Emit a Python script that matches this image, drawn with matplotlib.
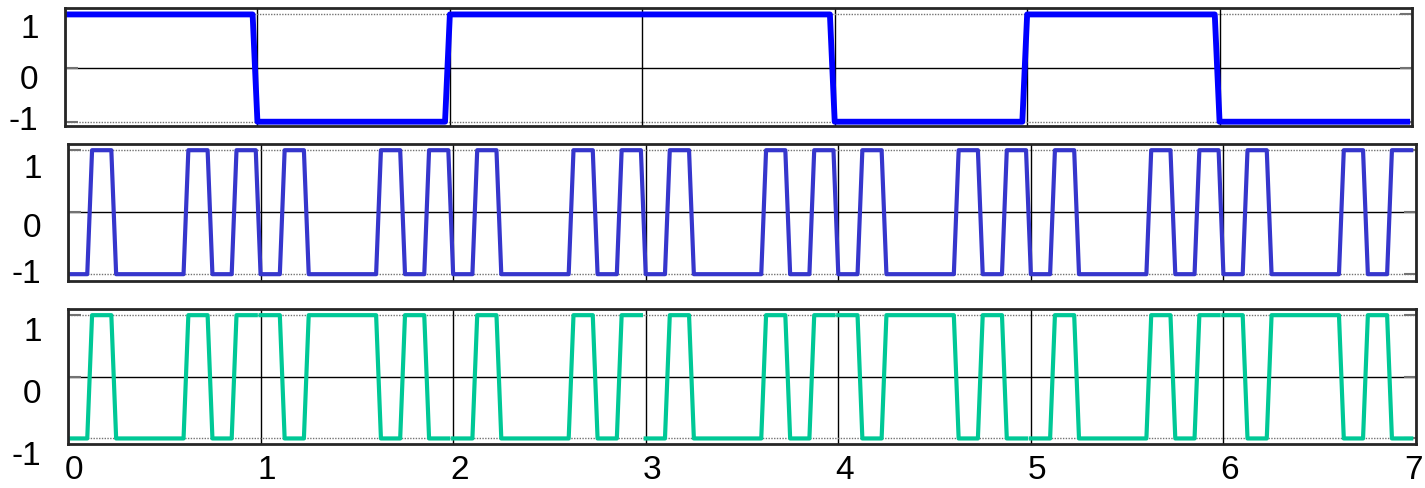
import matplotlib.pyplot as plt
import numpy as np
from matplotlib.transforms import ScaledTranslation

# data bits and the spreading code (one code period per bit)
bits = [1, 0, 1, 1, 0, 1, 0]
code = [0, 1, 0, 0, 0, 1, 0, 1]
xticks = [0, 1, 2, 3, 4, 5, 6, 7]
yticks = [-1, 0, 1]
samples_per_chip = 5

plt.rcParams['font.family'] = ['Liberation Sans', 'DejaVu Sans']
plt.rcParams['axes.unicode_minus'] = False


def polar(v):
    return 2 * np.asarray(v) - 1


n_bit = len(code) * samples_per_chip
dt = 1.0 / n_bit
data = np.repeat(polar(bits), n_bit)
pn = np.tile(np.repeat(polar(code), samples_per_chip), len(bits))
t = np.arange(len(data)) * dt
spread = data * pn

W, H = 1425, 488
fig = plt.figure(figsize=(W / 100, H / 100), dpi=100)


def px_axes(left, right, top, bottom):
    return fig.add_axes([left / W, 1 - bottom / H, (right - left) / W, (bottom - top) / H])


def shift(label, dx, dy):
    label.set_transform(label.get_transform() +
                        ScaledTranslation(dx / 100, dy / 100, fig.dpi_scale_trans))


def style(ax, ylim, yoffs, xlabels):
    ax.set_xlim(xticks[0], xticks[-1])
    ax.set_ylim(*ylim)
    ax.set_xticks(xticks)
    ax.set_yticks(yticks)
    ax.tick_params(axis='y', direction='in', length=9, width=1.5, color='0.45',
                   right=True, labelsize=24, pad=19)
    ax.tick_params(axis='x', direction='in', length=0, labelsize=24, pad=8,
                   labelbottom=xlabels)
    ax.grid(True, axis='x', color='black', linewidth=1)
    ax.grid(True, axis='y', color='black', linewidth=1)
    for val, gl in zip(yticks, ax.yaxis.get_gridlines()):
        if val != 0:
            gl.set_color('0.45')
            gl.set_linestyle((0, (1, 1)))
    ax.set_axisbelow(True)
    for sp in ax.spines.values():
        sp.set_linewidth(2)
        sp.set_color('0.15')
    for lab, dy in zip(ax.get_yticklabels(), yoffs):
        shift(lab, 0, dy)
    if xlabels:
        labs = ax.get_xticklabels()
        for lab in labs[:-1]:
            shift(lab, 6, 0)
        labs[-1].set_ha('right')
        shift(labs[-1], 7, 0)


# top: data signal
ax1 = px_axes(65, 1412, 8, 126)
ax1.plot(t, data, color='#0000FF', linewidth=4.2)
style(ax1, (-1.08, 1.12), [3.5, -9, -12], False)

# middle: PN code
ax2 = px_axes(68, 1416, 144, 281)
ax2.plot(t, pn, color='#3636CC', linewidth=3)
style(ax2, (-1.11, 1.10), [3, -13, -16], False)

# bottom: spread signal, one segment per bit
ax3 = px_axes(68, 1416, 309, 444)
for k in range(len(bits)):
    seg = slice(k * n_bit, (k + 1) * n_bit)
    ax3.plot(t[seg], spread[seg], color='#00C896', linewidth=3)
style(ax3, (-1.09, 1.10), [-15, -14.5, -14], True)

fig.savefig('out.png', dpi=100)
